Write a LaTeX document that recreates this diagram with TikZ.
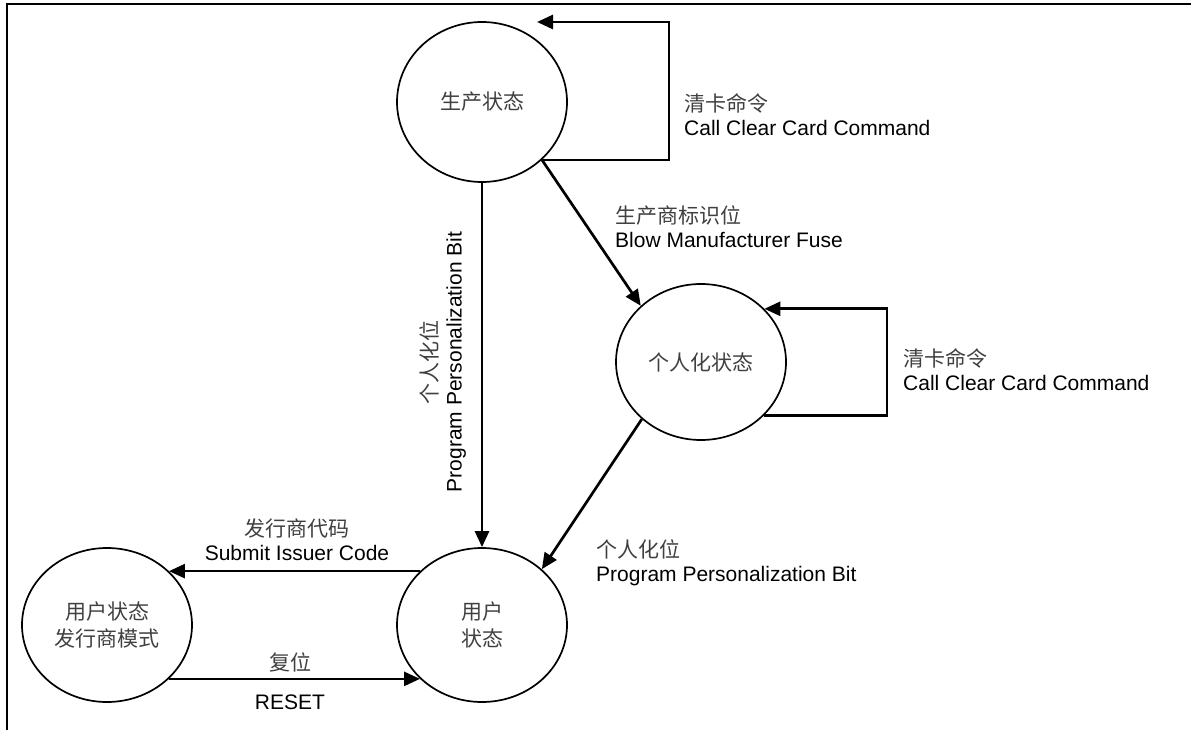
\documentclass[tikz,border=0pt]{standalone}
\usepackage{fontspec}
\setmainfont{Liberation Sans}
\newfontfamily\cjk{Noto Sans CJK SC}
\usetikzlibrary{arrows.meta,shapes.geometric}
\newcommand\lblfont{\fontsize{21}{24}\selectfont}
\newcommand\zhtxt[1]{{\cjk\color{black!75}#1}}
\begin{document}
\begin{tikzpicture}[x=1pt,y=-1pt,
  st/.style={ellipse,draw,line width=1.7pt,minimum width=170pt,minimum height=154pt,inner sep=0pt,align=center,font=\lblfont},
  arr/.style={line width=2.7pt,-{Triangle[length=16pt,width=14pt]}},
  lab/.style={align=left,font=\lblfont,inner sep=0pt}]
\useasboundingbox (0,0) rectangle (1191,730);
\draw[line width=2.7pt] (7,730) -- (7,4) -- (1191,4);

\node[st,minimum height=160pt] (A) at (482,102) {\zhtxt{生产状态}};
\node[st,minimum height=156pt] (B) at (701,362) {\zhtxt{个人化状态}};
\node[st,font=\fontsize{21}{27}\selectfont] (C) at (482,625) {\zhtxt{用户}\\\zhtxt{状态}};
\node[st,font=\fontsize{21}{27}\selectfont] (D) at (107,625) {\zhtxt{用户状态}\\\zhtxt{发行商模式}};

\coordinate (l1) at (669,90);
\coordinate (l1tip) at (537,22);
\coordinate (l2) at (887,360);

\draw[arr] (A.south) -- (C.north);
\draw[arr] (A.-44) -- (B.137);
\draw[arr] (A.-44) -| (l1) |- (l1tip);
\draw[arr] (B.-40) -| (l2) |- (B.40);
\draw[arr] (B.-136) -- (C.43);
\draw[arr] (C.139) -- (D.41);
\draw[arr] (D.-41) -- (C.-139);

\node[lab,anchor=west] (t1) at (684,115) {\zhtxt{清卡命令}\\Call Clear Card Command};
\node[lab,anchor=west] (t2) at (903,370) {\zhtxt{清卡命令}\\Call Clear Card Command};
\node[lab,anchor=west] (t3) at (615,227) {\zhtxt{生产商标识位}\\Blow Manufacturer Fuse};
\node[lab,align=center,rotate=90] (t4) at (443,362) {\zhtxt{个人化位}\\Program Personalization Bit};
\node[lab,anchor=west] (t5) at (596,563) {\zhtxt{个人化位}\\Program Personalization Bit};
\node[lab,align=center] (t6) at (297,540) {\zhtxt{发行商代码}\\Submit Issuer Code};
\node[lab,align=center] (t7) at (290,662) {\zhtxt{复位}};
\node[lab,align=center] (t8) at (290,702) {RESET};
\end{tikzpicture}
\end{document}
